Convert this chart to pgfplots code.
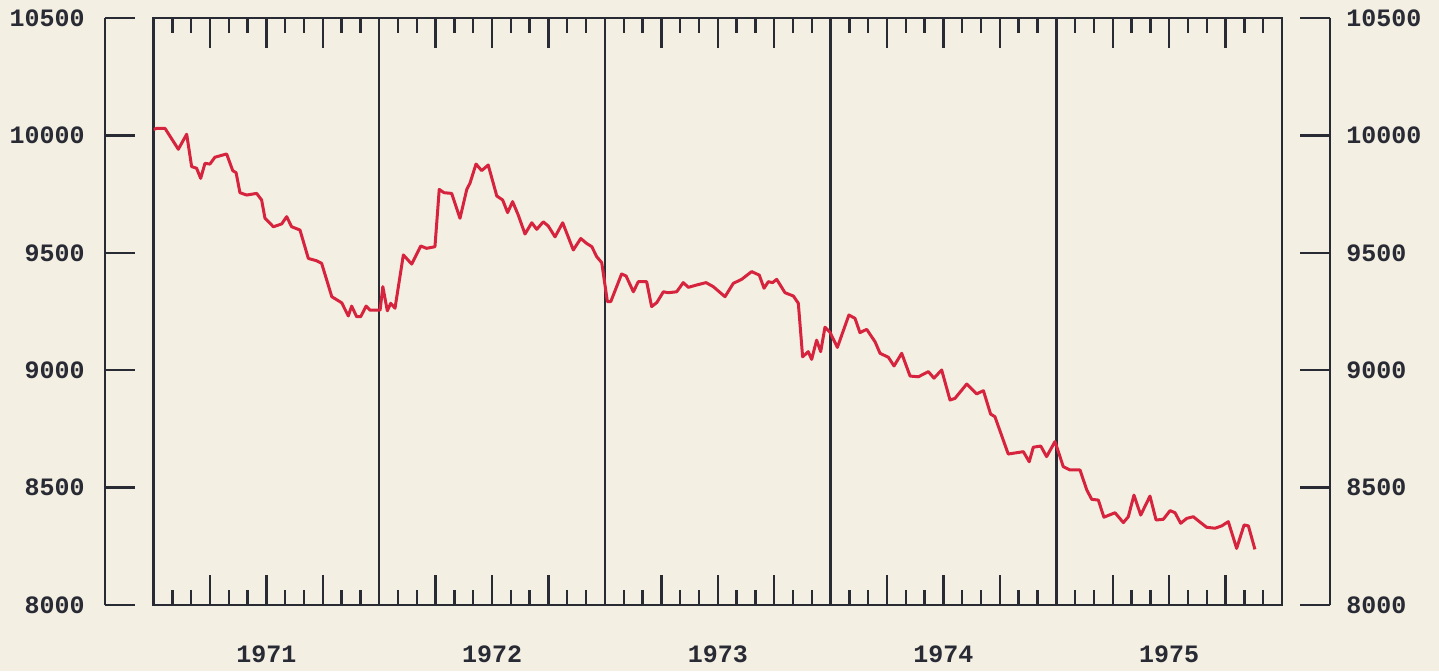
\documentclass[border=0pt]{standalone}
\usepackage{pgfplots}
\pgfplotsset{compat=1.18}
\usepackage{fontspec}
\setmainfont{Liberation Mono}
\definecolor{bg}{RGB}{244,239,227}
\definecolor{ax}{RGB}{40,42,52}
\definecolor{ln}{RGB}{214,36,62}
\pgfplotstableread{
x y
1971.000 10025
1971.014 10030
1971.051 10030
1971.110 9941
1971.147 10005
1971.169 9867
1971.191 9860
1971.209 9817
1971.228 9881
1971.250 9878
1971.272 9907
1971.324 9921
1971.351 9850
1971.366 9841
1971.383 9756
1971.413 9746
1971.457 9753
1971.479 9725
1971.494 9647
1971.531 9611
1971.568 9623
1971.590 9654
1971.612 9611
1971.649 9597
1971.686 9476
1971.723 9466
1971.745 9455
1971.790 9313
1971.834 9287
1971.863 9231
1971.878 9273
1971.900 9228
1971.918 9228
1971.942 9273
1971.959 9256
1972.004 9256
1972.016 9356
1972.036 9253
1972.051 9285
1972.070 9264
1972.107 9491
1972.144 9452
1972.184 9529
1972.210 9519
1972.247 9526
1972.266 9770
1972.287 9756
1972.321 9753
1972.358 9647
1972.388 9770
1972.402 9796
1972.429 9878
1972.454 9850
1972.483 9874
1972.521 9742
1972.547 9725
1972.569 9671
1972.591 9718
1972.616 9661
1972.646 9580
1972.676 9628
1972.698 9600
1972.727 9632
1972.749 9614
1972.779 9568
1972.813 9628
1972.860 9512
1972.893 9561
1972.919 9540
1972.942 9526
1972.964 9483
1972.986 9458
1973.011 9292
1973.026 9292
1973.074 9410
1973.094 9401
1973.126 9334
1973.148 9377
1973.185 9377
1973.207 9271
1973.230 9288
1973.259 9334
1973.281 9330
1973.318 9334
1973.347 9373
1973.370 9353
1973.407 9363
1973.448 9373
1973.480 9356
1973.532 9313
1973.569 9370
1973.606 9387
1973.650 9420
1973.684 9405
1973.705 9349
1973.724 9377
1973.743 9373
1973.761 9387
1973.798 9330
1973.835 9316
1973.857 9285
1973.876 9057
1973.901 9079
1973.916 9046
1973.938 9128
1973.956 9079
1973.975 9183
1973.997 9162
1974.030 9097
1974.081 9235
1974.108 9221
1974.130 9160
1974.160 9174
1974.197 9121
1974.219 9072
1974.256 9055
1974.281 9018
1974.315 9072
1974.352 8975
1974.389 8972
1974.433 8994
1974.458 8966
1974.492 9001
1974.529 8873
1974.551 8880
1974.603 8941
1974.647 8899
1974.677 8913
1974.709 8813
1974.728 8802
1974.787 8643
1974.854 8653
1974.880 8610
1974.898 8672
1974.931 8677
1974.957 8632
1974.994 8696
1975.031 8589
1975.061 8575
1975.105 8575
1975.135 8490
1975.157 8450
1975.186 8447
1975.211 8374
1975.260 8393
1975.297 8351
1975.319 8376
1975.344 8468
1975.374 8383
1975.415 8464
1975.442 8362
1975.474 8365
1975.504 8402
1975.526 8393
1975.551 8348
1975.578 8369
1975.607 8376
1975.634 8355
1975.666 8331
1975.703 8327
1975.733 8337
1975.762 8355
1975.799 8241
1975.832 8341
1975.851 8337
1975.880 8237
}\series
\begin{document}
\begin{tikzpicture}
\fill[bg] (0,0) rectangle (719.5pt,335.5pt);
% left value axis
\begin{axis}[at={(52.5pt,33pt)}, anchor=south west, scale only axis,
  width=15pt, height=293.5pt, xmin=0, xmax=1, ymin=8000, ymax=10500,
  axis y line*=left, hide x axis, tick align=inside,
  scaled y ticks=false,
  ytick={8000,8500,9000,9500,10000,10500},
  yticklabels={8000,8500,9000,9500,10000,10500},
  major tick length=15pt,
  axis line style={ax, line width=1.2pt},
  every tick/.style={ax, line width=1.2pt},
  yticklabel style={font=\fontsize{12.5}{14}\selectfont\bfseries, text=ax, inner sep=0pt, anchor=east, xshift=-10pt}]
\end{axis}
% right value axis
\begin{axis}[at={(650pt,33pt)}, anchor=south west, scale only axis,
  width=15pt, height=293.5pt, xmin=0, xmax=1, ymin=8000, ymax=10500,
  axis y line*=right, hide x axis, tick align=inside,
  scaled y ticks=false,
  ytick={8000,8500,9000,9500,10000,10500},
  yticklabels={8000,8500,9000,9500,10000,10500},
  major tick length=15pt,
  axis line style={ax, line width=1.2pt},
  every tick/.style={ax, line width=1.2pt},
  yticklabel style={font=\fontsize{12.5}{14}\selectfont\bfseries, text=ax, inner sep=0pt, anchor=west, xshift=8pt}]
\end{axis}
% main plot
\begin{axis}[at={(76.75pt,33pt)}, anchor=south west, scale only axis,
  width=564.25pt, height=293.5pt,
  xmin=1971, xmax=1976, ymin=8000, ymax=10500,
  ytick=\empty, tick align=inside, scaled x ticks=false,
  xtick={1971.25,1971.5,1971.75,1972.25,1972.5,1972.75,1973.25,1973.5,1973.75,1974.25,1974.5,1974.75,1975.25,1975.5,1975.75},
  xticklabels={,1971,,,1972,,,1973,,,1974,,,1975,},
  minor xtick={1971.0833,1971.1667,1971.4167,1971.5833,1971.9167,1971.8333,1971.6667,1971.3333,
               1972.0833,1972.1667,1972.4167,1972.5833,1972.9167,1972.8333,1972.6667,1972.3333,
               1973.0833,1973.1667,1973.4167,1973.5833,1973.9167,1973.8333,1973.6667,1973.3333,
               1974.0833,1974.1667,1974.4167,1974.5833,1974.9167,1974.8333,1974.6667,1974.3333,
               1975.0833,1975.1667,1975.4167,1975.5833,1975.9167,1975.8333,1975.6667,1975.3333},
  major tick length=15pt, minor tick length=7.5pt,
  extra x ticks={1972,1973,1974,1975}, extra x tick labels={},
  extra x tick style={grid=major, major tick length=0pt},
  major grid style={ax, line width=1.2pt},
  axis line style={ax, line width=1.2pt},
  every tick/.style={ax, line width=1.2pt},
  xticklabel style={font=\fontsize{12.5}{14}\selectfont\bfseries, text=ax, inner sep=0pt, anchor=north, yshift=-20pt}]
\addplot[ln, line width=1.5pt, line join=round] table[x=x,y=y] {\series};
\end{axis}
\end{tikzpicture}
\end{document}
